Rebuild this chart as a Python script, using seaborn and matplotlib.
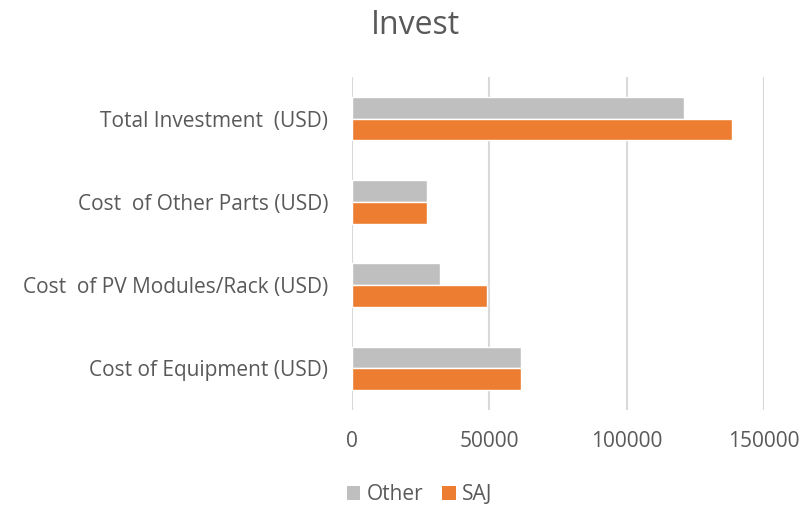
import matplotlib
matplotlib.use("Agg")
import matplotlib.pyplot as plt
import seaborn as sns
import pandas as pd
from matplotlib.patches import Patch

categories = ["Total Investment  (USD)", "Cost  of Other Parts (USD)",
              "Cost  of PV Modules/Rack (USD)", "Cost of Equipment (USD)"]
series = ["Other", "SAJ"]
other_vals = [121000, 27300, 32000, 61600]
saj_vals = [138500, 27300, 49300, 61600]
x_ticks = [0, 50000, 100000, 150000]

df = pd.DataFrame({
    "category": categories * 2,
    "series": ["Other"] * len(categories) + ["SAJ"] * len(categories),
    "value": other_vals + saj_vals,
})

sns.set_theme(style="white")
plt.rcParams["font.family"] = ["Open Sans", "DejaVu Sans"]
text_color = "#595959"
palette = {"Other": "#BFBFBF", "SAJ": "#ED7D31"}

fig = plt.figure(figsize=(8.02, 5.07), dpi=100)
ax = fig.add_axes([352 / 802, 1 - 410 / 507, (764 - 352) / 802, (410 - 77) / 507])

sns.barplot(data=df, y="category", x="value", hue="series", hue_order=series,
            order=categories, palette=palette, orient="h", width=0.52,
            saturation=1, ax=ax, legend=False)

ax.set_xlim(0, 150000)
ax.set_ylim(3.5, -0.5)
ax.set_xticks(x_ticks)
ax.set_xticklabels([str(t) for t in x_ticks])
ax.xaxis.grid(True, color="#D9D9D9", linewidth=1.5)
ax.yaxis.grid(False)
ax.set_axisbelow(True)
for s in ax.spines.values():
    s.set_visible(False)
ax.tick_params(axis="both", length=0, labelsize=15, labelcolor=text_color)
ax.tick_params(axis="x", pad=15)
ax.tick_params(axis="y", pad=17)
ax.set_xlabel("")
ax.set_ylabel("")

fig.text(0.518, 1 - 34.3 / 507, "Invest", ha="center", va="baseline", fontsize=23, color=text_color)

handles = [Patch(facecolor=palette[s], edgecolor="none", label=s) for s in series]
fig.legend(handles=handles, loc="center", bbox_to_anchor=(0.523, 1 - 494.5 / 507),
           ncol=2, frameon=False, fontsize=15, labelcolor=text_color,
           handlelength=0.66, handleheight=0.66, handletextpad=0.3, columnspacing=0.9)

fig.savefig("out.png", dpi=100)
